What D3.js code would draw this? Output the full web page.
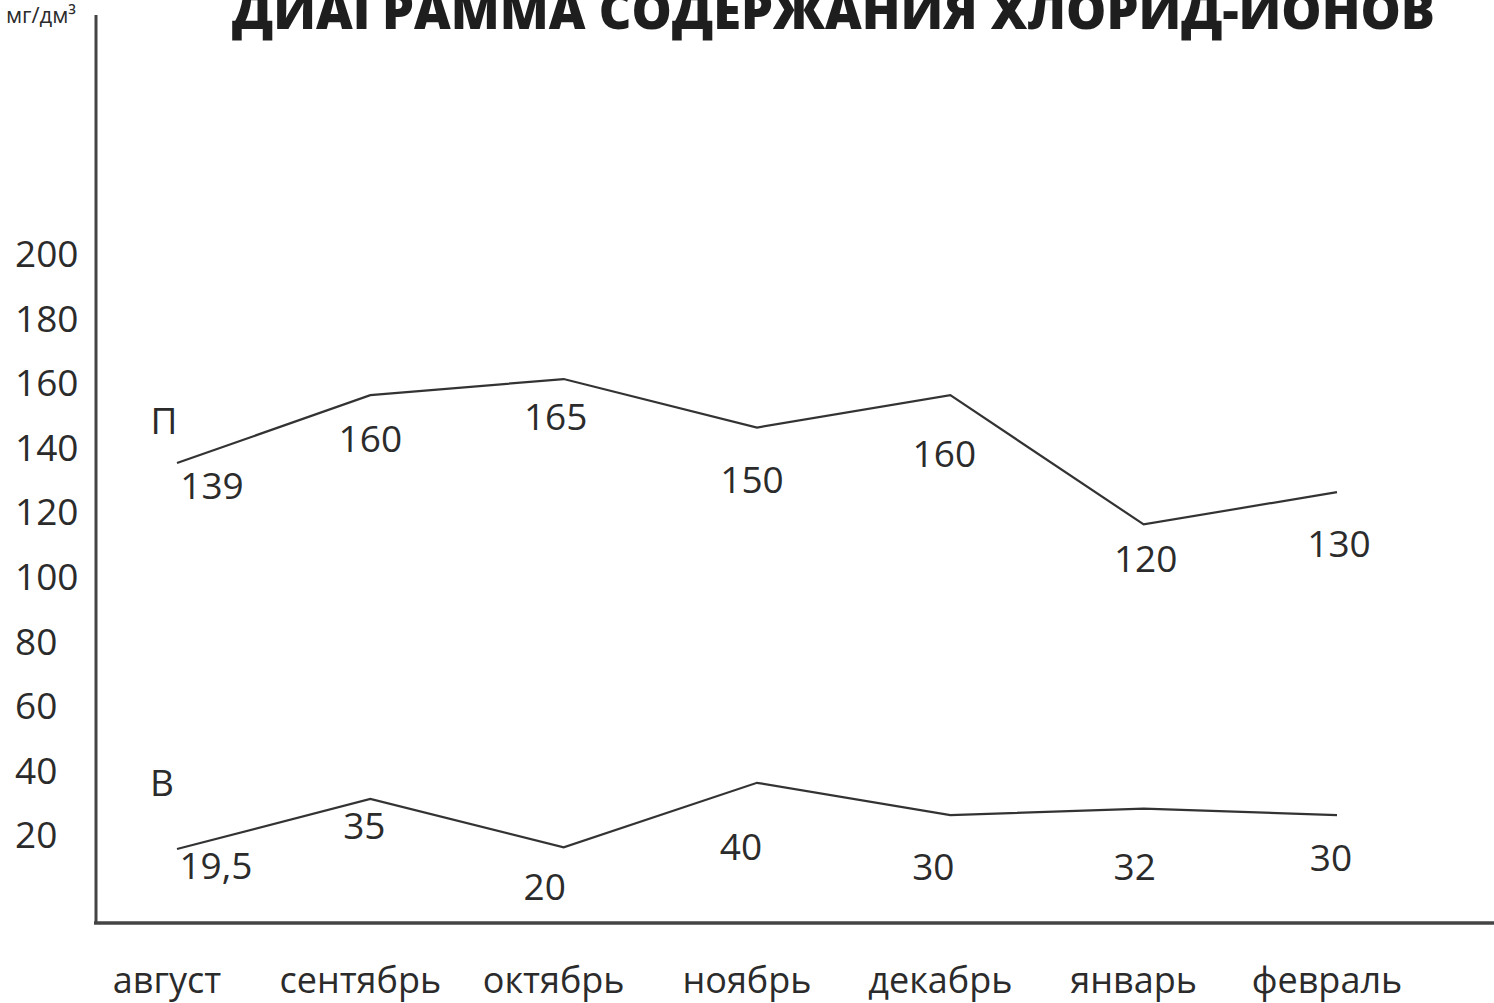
<!DOCTYPE html>
<html><head><meta charset="utf-8">
<script src="https://cdn.jsdelivr.net/npm/d3@7/dist/d3.min.js"></script>
<style>html,body{margin:0;padding:0;background:#fff;overflow:hidden}</style>
</head><body>
<svg id="c" width="1494" height="1003"></svg>
<script>
const months = ["август","сентябрь","октябрь","ноябрь","декабрь","январь","февраль"];
const seriesP = [139,160,165,150,160,120,130];
const seriesB = [19.5,35,20,40,30,32,30];
const labelsP = ["139","160","165","150","160","120","130"];
const labelsB = ["19,5","35","20","40","30","32","30"];
const yTicks = [20,40,60,80,100,120,140,160,180,200];
const title = "ДИАГРАММА СОДЕРЖАНИЯ ХЛОРИД-ИОНОВ";
const unit = "мг/дм³";

// label nudges (px, relative to point) – annotation layout only
const nudgeP = [[35,36],[0,57],[-8,51],[-5,65],[-6,72],[2,48],[2,65]];
const nudgeB = [[39,30],[-6,40],[-19,53],[-16,77],[-17,65],[-9,71],[-6,56]];

const ink = "#2b2b2b";
const font = "'Open Sans', sans-serif";
const svg = d3.select("#c");

const x = d3.scalePoint().domain(months).range([177,1337]);
const y = d3.scaleLinear().domain([-3.4,200]).range([923,266]);

// axes lines
svg.append("line").attr("x1",96).attr("x2",96).attr("y1",15).attr("y2",y(-3.4)+1)
  .attr("stroke","#444").attr("stroke-width",3);
svg.append("line").attr("x1",94).attr("x2",1494).attr("y1",y(-3.4)).attr("y2",y(-3.4))
  .attr("stroke","#444").attr("stroke-width",3.5);

// y tick labels
svg.append("g").selectAll("text").data(yTicks).join("text")
  .attr("x",15).attr("y",d=>y(d)+1)
  .attr("font-family",font).attr("font-size",37).attr("fill",ink)
  .text(d=>d);

// month labels
svg.append("g").selectAll("text").data(months).join("text")
  .attr("x",d=>x(d)-10).attr("y",993).attr("text-anchor","middle")
  .attr("font-family",font).attr("font-size",36).attr("fill",ink)
  .text(d=>d);

// title (partly cropped at top edge, as in the original scan)
svg.append("text").attr("x",232).attr("y",29)
  .attr("textLength",1203).attr("lengthAdjust","spacingAndGlyphs")
  .attr("font-family",font).attr("font-weight",800).attr("font-size",52).attr("fill","#1e1e1e")
  .text(title);

// unit
svg.append("text").attr("x",76).attr("y",23).attr("text-anchor","end")
  .attr("font-family",font).attr("font-size",22).attr("fill",ink).text(unit);

const line = d3.line().x((d,i)=>x(months[i])).y(d=>y(d));
[seriesP,seriesB].forEach(s=>{
  svg.append("path").datum(s).attr("d",line).attr("fill","none")
    .attr("stroke","#333").attr("stroke-width",2.2).attr("stroke-linejoin","miter");
});

function labels(vals, texts, nudge){
  svg.append("g").selectAll("text").data(vals).join("text")
    .attr("x",(d,i)=>x(months[i])+nudge[i][0])
    .attr("y",(d,i)=>y(d)+nudge[i][1])
    .attr("text-anchor","middle")
    .attr("font-family",font).attr("font-size",37).attr("fill",ink)
    .text((d,i)=>texts[i]);
}
labels(seriesP,labelsP,nudgeP);
labels(seriesB,labelsB,nudgeB);

// series names
svg.append("text").attr("x",x(months[0])-13).attr("y",y(seriesP[0])-29).attr("text-anchor","middle")
  .attr("font-family",font).attr("font-size",37).attr("fill",ink).text("П");
svg.append("text").attr("x",x(months[0])-15).attr("y",y(seriesB[0])-53).attr("text-anchor","middle")
  .attr("font-family",font).attr("font-size",37).attr("fill",ink).text("В");
</script>
</body></html>
